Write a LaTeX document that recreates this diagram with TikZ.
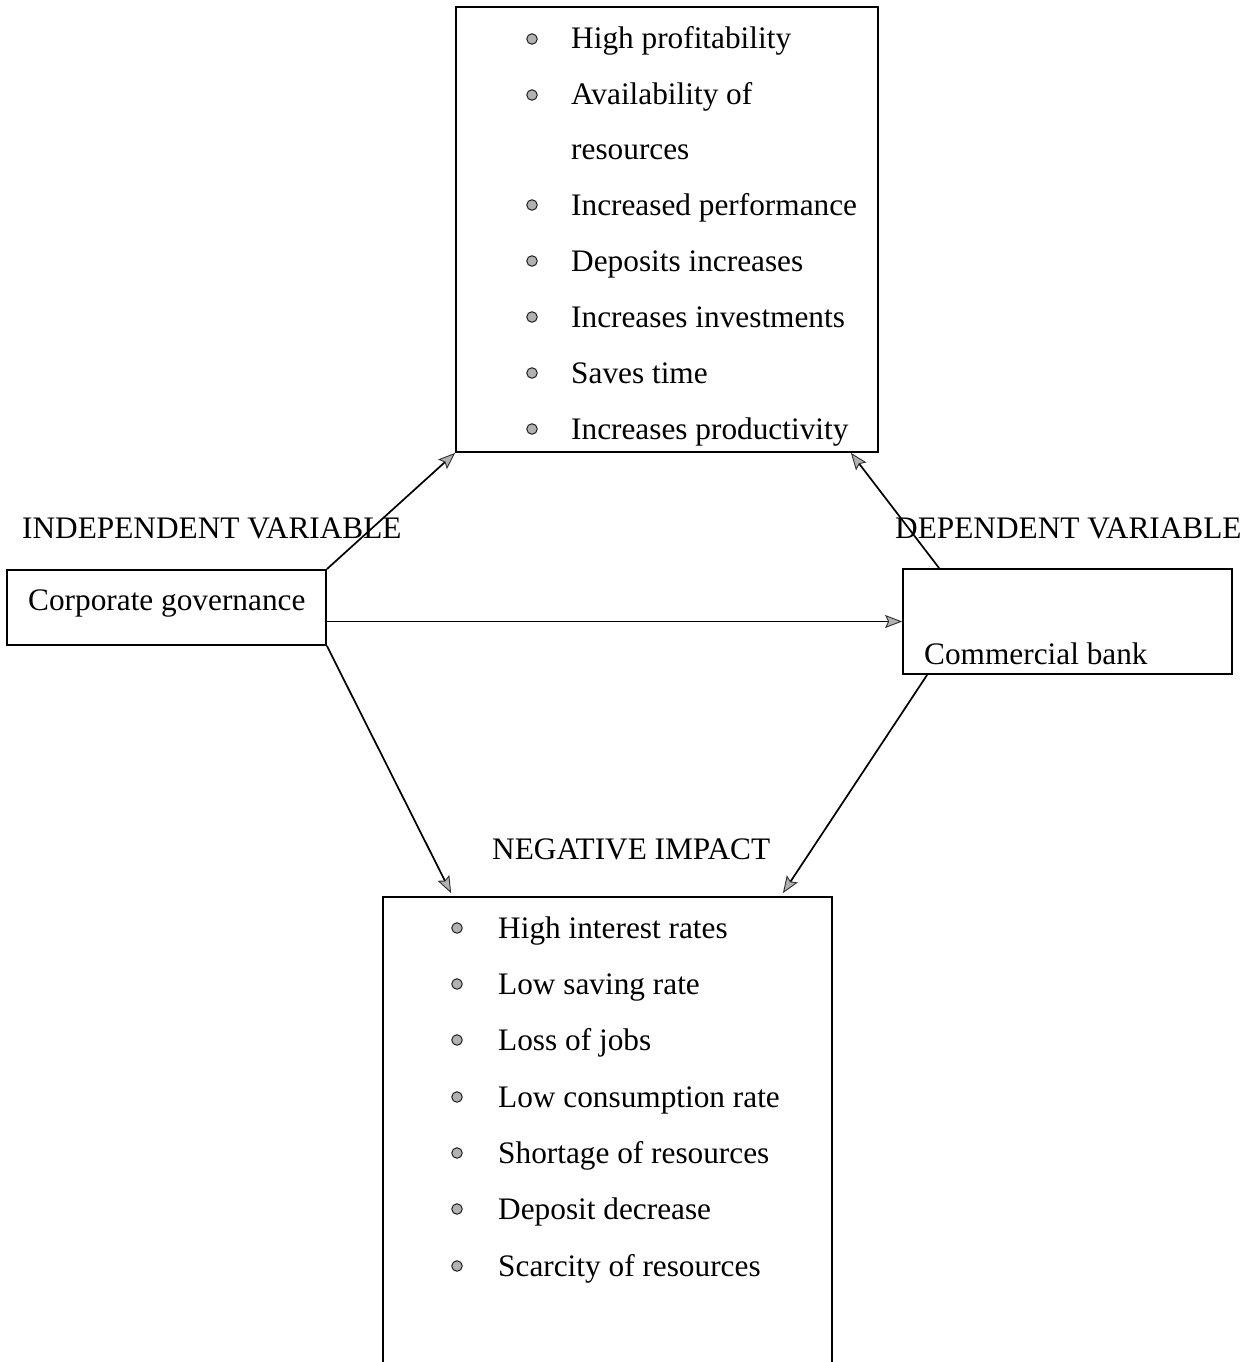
\documentclass[tikz,border=0pt]{standalone}
\usepackage{fontspec}
\setmainfont{Liberation Serif}
\usetikzlibrary{arrows.meta,calc}
\begin{document}
\begin{tikzpicture}[x=1pt,y=-1pt,
  box/.style={draw,line width=1.8pt,rectangle,inner sep=0pt},
  txt/.style={anchor=base west,inner sep=0pt,font=\fontsize{31.3}{37}\selectfont},
  bul/.style={circle,inner sep=0pt,minimum size=10.5pt,fill=gray!60,draw=gray!25!black,line width=1pt},
  arr/.style={line width=1.7pt,-{Stealth[length=17pt,width=13pt,inset=3pt,fill=gray!60,color=gray!35!black,line width=0.9pt]}}]
\useasboundingbox (0,0) rectangle (1248,1362);
\clip (0,0) rectangle (1248,1362);
\fill[white] (0,0) rectangle (1248,1362);
% boxes
\node[box,minimum width=422pt,minimum height=445pt] (top) at (667,229.5) {};
\node[box,minimum width=319pt,minimum height=75pt] (cg) at (166.5,607.5) {};
\node[box,minimum width=329pt,minimum height=105pt] (cb) at (1067.5,621.5) {};
\node[box,minimum width=449pt,minimum height=503pt] (neg) at (607.5,1148.5) {};
% labels
\node[txt] (lind) at (22,538) {INDEPENDENT VARIABLE};
\node[txt] (ldep) at (895,538) {DEPENDENT VARIABLE};
\node[txt] (lneg) at (492,859) {NEGATIVE IMPACT};
\node[txt] (tcg) at (28,610) {Corporate governance};
\node[txt] (tcb) at (924,664) {Commercial bank};
% top list
\foreach \i/\y/\t/\b in {1/49/High profitability/1, 2/105/Availability of/1, 3/160/resources/0, 4/215/Increased performance/1, 5/271/Deposits increases/1, 6/327/Increases investments/1, 7/383/Saves time/1, 8/439/Increases productivity/1}{
  \node[txt] (p\i) at (571,\y) {\t};
  \ifnum\b=1 \node[bul] (pb\i) at (532,\y-10) {};\fi
}
% bottom list
\foreach \i/\y/\t in {1/938/High interest rates, 2/994/Low saving rate, 3/1050/Loss of jobs, 4/1107/Low consumption rate, 5/1163/Shortage of resources, 6/1219/Deposit decrease, 7/1276/Scarcity of resources}{
  \node[txt] (n\i) at (498,\y) {\t};
  \node[bul] (nb\i) at (457,\y-10) {};
}
% connectors
\draw[arr] (cg.north east) -- (top.south west);
\draw[arr] (cb.west -| cg.east) -- (cb.west);
\draw[arr] (cg.south east) -- ($(neg.north west)+(69,-3)$);
\draw[arr] ($(cb.north west)+(37,0)$) -- ($(top.south east)+(-28,0)$);
\draw[arr] ($(cb.south west)+(25,0)$) -- ($(neg.north east)+(-50,-3)$);
\end{tikzpicture}
\end{document}
